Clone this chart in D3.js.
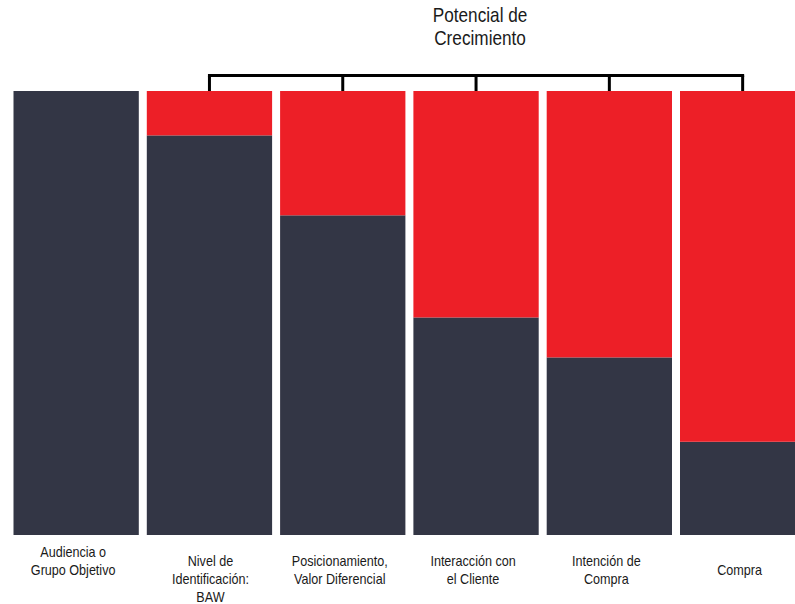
<!DOCTYPE html>
<html>
<head>
<meta charset="utf-8">
<script src="https://cdn.jsdelivr.net/npm/d3@7"></script>
<style>
  html, body { margin: 0; padding: 0; background: #ffffff; }
  svg { display: block; }
  text { font-family: "Liberation Sans", Arial, sans-serif; fill: #1a1a1a; }
</style>
</head>
<body>
<svg id="chart" width="795" height="604"></svg>
<script>
// ---- data ----
const categories = [
  "Audiencia o Grupo Objetivo",
  "Nivel de Identificación: BAW",
  "Posicionamiento, Valor Diferencial",
  "Interacción con el Cliente",
  "Intención de Compra",
  "Compra"
];
const labelLines = [
  ["Audiencia o", "Grupo Objetivo"],
  ["Nivel de", "Identificación:", "BAW"],
  ["Posicionamiento,", "Valor Diferencial"],
  ["Interacción con", "el Cliente"],
  ["Intención de", "Compra"],
  ["Compra"]
];
const baseValues = [100, 90, 72, 49, 40, 21];      // dark part
const potentialValues = [0, 10, 28, 51, 60, 79];   // red part
const titleLines = ["Potencial de", "Crecimiento"];

// ---- layout ----
const svg = d3.select("#chart");
const colors = { base: "#333645", potential: "#ED1F27" };
const plotTop = 91, plotBottom = 535;
const step = 133.3, pad = 8 / 133.3;
const x = d3.scaleBand()
  .domain(categories)
  .range([13.5, 13.5 + step * (categories.length - pad)])
  .paddingInner(pad)
  .paddingOuter(0);
const y = d3.scaleLinear().domain([0, 100]).range([plotBottom, plotTop]);

const rows = categories.map((c, i) => ({ cat: c, base: baseValues[i], potential: potentialValues[i] }));
const stack = d3.stack().keys(["base", "potential"]);
const series = stack(rows);

svg.append("g").selectAll("g")
  .data(series)
  .join("g")
  .attr("fill", d => colors[d.key])
  .selectAll("rect")
  .data(d => d)
  .join("rect")
  .attr("x", d => x(d.data.cat))
  .attr("y", d => y(d[1]))
  .attr("width", x.bandwidth())
  .attr("height", d => Math.max(0, y(d[0]) - y(d[1])));

// ---- bracket over growth-potential bars ----
const bracketY = 75.5;
const growthCats = categories.slice(1);
const cx = c => x(c) + x.bandwidth() / 2;
const br = svg.append("g").attr("stroke", "#000").attr("stroke-width", 3).attr("fill", "none");
br.append("line")
  .attr("x1", cx(growthCats[0]) - 1.5).attr("x2", cx(growthCats[growthCats.length - 1]) + 1.5)
  .attr("y1", bracketY).attr("y2", bracketY);
br.selectAll("line.v").data(growthCats).join("line")
  .attr("class", "v")
  .attr("x1", cx).attr("x2", cx)
  .attr("y1", bracketY).attr("y2", plotTop);

// ---- title ----
const titleX = (cx(growthCats[0]) + cx(growthCats[growthCats.length - 1])) / 2 + 4;
svg.append("g")
  .attr("transform", `translate(${titleX},22) scale(0.86,1)`)
  .append("text")
  .attr("text-anchor", "middle")
  .style("font-size", "20px")
  .selectAll("tspan").data(titleLines).join("tspan")
  .attr("x", 0)
  .attr("dy", (d, i) => i === 0 ? 0 : 23.5)
  .text(d => d);

// ---- category labels ----
const lh = 18.3;
const labelCenter = 574.75;
const labelG = svg.append("g");
labelLines.forEach((lines, i) => {
  const n = lines.length;
  let firstBase = n >= 3 ? 565.5 : labelCenter - (n - 1) * lh / 2;
  if (i === 0) firstBase -= 8.5;
  const lx = cx(categories[i]) - (i === 1 ? -1 : 3);
  labelG.append("g")
    .attr("transform", `translate(${lx},${firstBase}) scale(0.9,1)`)
    .append("text")
    .attr("text-anchor", "middle")
    .style("font-size", "14px")
    .selectAll("tspan").data(lines).join("tspan")
    .attr("x", 0)
    .attr("dy", (d, j) => j === 0 ? 0 : lh)
    .text(d => d);
});
</script>
</body>
</html>
